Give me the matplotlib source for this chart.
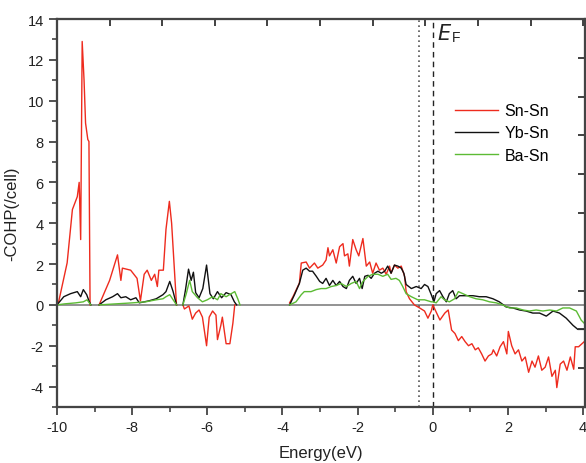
import numpy as np
import matplotlib
matplotlib.use("Agg")
import matplotlib.pyplot as plt

plt.rcParams['font.family'] = ['Liberation Sans', 'DejaVu Sans']

nan = np.nan
# Sn-Sn
sn_e = [-10, -9.95, -9.73, -9.59, -9.46, -9.41, -9.37, -9.33, -9.28, -9.24, -9.18, -9.15, -9.12, nan,
        -8.88, -8.6, -8.39, -8.3, -8.26, -8.04, -7.87, -7.78, -7.68, -7.6, -7.49, -7.4, -7.33, -7.29, -7.17, -7.1, -7.01, -6.95, -6.82, nan,
        -6.65, -6.61, -6.49, -6.4, -6.31, -6.22, -6.13, -6.02, -5.95, -5.86, -5.77, -5.73, -5.64, -5.6, -5.5, -5.4, -5.32, -5.27, nan,
        -3.81, -3.72, -3.55, -3.5, -3.37, -3.28, -3.15, -3.06, -2.93, -2.84, -2.79, -2.75, -2.66, -2.57, -2.48, -2.39,
        -2.35, -2.26, -2.22, -2.13, -2.04, -1.97, -1.86, -1.77, -1.68, -1.6, -1.51, -1.42, -1.33, -1.24, -1.15, -1.11,
        -1.02, -0.93, -0.84, -0.75, -0.71, -0.62, -0.49, -0.35, -0.22, -0.13, -0.04, 0.0,
        0.19, 0.32, 0.41, 0.5, 0.59, 0.68, 0.77, 0.86, 0.95, 1.04, 1.13, 1.21, 1.3, 1.39, 1.48, 1.57, 1.61, 1.7, 1.79,
        1.88, 1.97, 2.01, 2.1, 2.19, 2.28, 2.37, 2.46, 2.55, 2.64, 2.72, 2.81, 2.9, 2.99, 3.08, 3.17, 3.26, 3.3, 3.39,
        3.48, 3.57, 3.66, 3.75, 3.79, 3.88, 3.97, 4.03]
sn_v = [0, 0.2, 2.06, 4.67, 5.3, 6.0, 3.2, 12.9, 11.0, 8.9, 8.1, 8.0, 0, nan,
        0, 1.2, 2.45, 1.2, 1.8, 1.7, 1.3, 0.2, 1.5, 1.7, 1.2, 1.5, 0.9, 1.7, 1.7, 3.7, 5.07, 4.0, 0, nan,
        0, -0.2, -0.05, -0.7, -0.4, -0.25, -0.6, -2.0, -0.6, -0.3, -0.5, -1.7, -1.0, -0.6, -1.9, -1.9, -0.9, 0, nan,
        0.1, 0.4, 1.07, 2.05, 2.1, 1.8, 2.05, 1.8, 1.95, 2.2, 2.8, 2.4, 2.7, 2.05, 2.85, 3.0,
        2.4, 2.5, 1.9, 3.2, 2.7, 2.4, 3.25, 1.9, 2.1, 1.55, 2.05, 1.7, 1.8, 1.5, 1.9, 1.55,
        1.95, 1.8, 1.9, 1.4, 0.65, 0.3, 0.0, -0.15, -0.3, -0.65, -0.3, 0.0,
        -0.74, -0.4, -0.25, -1.23, -1.4, -1.75, -1.55, -1.8, -2.0, -1.9, -2.2, -2.1, -2.4, -2.75, -2.5, -2.4, -2.2, -2.5, -2.05,
        -1.8, -2.4, -1.3, -2.0, -2.4, -2.2, -2.75, -2.55, -3.3, -2.75, -3.05, -2.5, -3.2, -3.05, -2.55, -3.5, -3.2, -4.05, -2.9,
        -2.75, -3.2, -2.55, -3.15, -2.05, -2.05, -1.9, -1.8]

# Yb-Sn
yb_e = [-10, -9.82, -9.64, -9.46, -9.37, -9.3, -9.21, -9.15, -9.1, nan,
        -8.88, -8.7, -8.52, -8.39, -8.3, -8.17, -8.04, -7.9, -7.81, -7.68, -7.55, -7.36, -7.18, -7.1, -7.0, -6.91, -6.82, nan,
        -6.65, -6.58, -6.5, -6.43, -6.37, -6.31, -6.22, -6.12, -6.02, -5.93, -5.84, -5.73, -5.62, -5.5, -5.37, -5.28, -5.22, nan,
        -3.81, -3.68, -3.55, -3.46, -3.37, -3.28, -3.2, -3.1, -3.01, -2.93, -2.84, -2.75, -2.66, -2.57, -2.48, -2.39,
        -2.3, -2.22, -2.13, -2.04, -1.95, -1.88, -1.81, -1.72, -1.64, -1.55, -1.46, -1.37, -1.28, -1.2, -1.11, -1.02,
        -0.93, -0.84, -0.77, -0.71, -0.57, -0.44, -0.31, -0.22, -0.13, -0.04, 0.03,
        0.09, 0.18, 0.27, 0.36, 0.44, 0.53, 0.62, 0.71, 0.89, 1.07, 1.24, 1.42, 1.6, 1.77, 1.95, 2.13, 2.31, 2.48,
        2.66, 2.84, 3.02, 3.2, 3.37, 3.55, 3.73, 3.86, 4.03]
yb_v = [0, 0.4, 0.55, 0.65, 0.4, 0.75, 0.5, 0.2, 0, nan,
        0, 0.25, 0.4, 0.55, 0.35, 0.4, 0.25, 0.35, 0.1, 0.15, 0.2, 0.3, 0.5, 0.65, 1.15, 0.65, 0, nan,
        0, 0.75, 1.75, 1.2, 1.6, 0.6, 0.35, 0.8, 1.95, 0.55, 0.3, 0.65, 0.35, 0.6, 0.5, 0.15, 0, nan,
        0, 0.5, 1.05, 1.7, 1.8, 1.65, 1.65, 1.4, 1.15, 1.05, 1.3, 0.95, 1.2, 0.95, 1.15, 0.9,
        0.8, 1.2, 1.4, 1.05, 1.3, 0.8, 1.4, 1.45, 1.3, 1.55, 1.65, 1.55, 1.65, 1.9, 1.55, 1.95,
        1.9, 1.8, 1.55, 1.0, 0.8, 0.9, 0.8, 1.0, 0.9, 0.5, 0.15,
        0.55, 0.7, 0.4, 0.15, 0.55, 0.7, 0.3, 0.45, 0.45, 0.45, 0.4, 0.4, 0.3, 0.15, -0.1, -0.15, -0.25, -0.3,
        -0.4, -0.4, -0.55, -0.3, -0.4, -0.65, -1.0, -1.2, -1.2]

# Ba-Sn
ba_e = [-10, -9.8, -9.5, -9.3, -9.2, -9.1, nan,
        -8.88, -8.44, -7.99, -7.64, -7.36, -7.18, -7.1, -7.0, -6.91, -6.82, nan,
        -6.65, -6.56, -6.47, -6.4, -6.26, -6.13, -6.0, -5.86, -5.73, -5.64, -5.5, -5.41, -5.27, -5.19, -5.13, nan,
        -3.81, -3.64, -3.5, -3.42, -3.24, -3.1, -2.97, -2.84, -2.7, -2.57, -2.44, -2.3, -2.17, -2.04, -1.95, -1.86,
        -1.72, -1.6, -1.46, -1.33, -1.2, -1.11, -0.98, -0.89, -0.8, -0.71, -0.57, -0.4, -0.22, -0.04, 0.0,
        0.09, 0.22, 0.31, 0.44, 0.58, 0.68, 0.8, 0.98, 1.15, 1.33, 1.51, 1.69, 1.86, 2.04, 2.22, 2.4, 2.57,
        2.75, 2.93, 3.11, 3.29, 3.46, 3.64, 3.82, 3.95, 4.03]
ba_v = [0, 0.05, 0.1, 0.15, 0.25, 0, nan,
        0, 0.05, 0.1, 0.15, 0.25, 0.3, 0.4, 0.5, 0.25, 0, nan,
        0, 0.55, 1.2, 0.65, 0.35, 0.15, 0.25, 0.4, 0.25, 0.55, 0.4, 0.5, 0.65, 0.3, 0, nan,
        0, 0.15, 0.5, 0.65, 0.65, 0.75, 0.8, 0.8, 0.9, 0.95, 1.05, 0.9, 1.05, 1.15, 0.8, 1.15,
        1.4, 1.5, 1.5, 1.4, 1.5, 1.25, 1.3, 1.2, 0.9, 0.55, 0.4, 0.25, 0.25, 0.15, 0.15,
        0.1, 0.4, 0.25, 0.15, 0.3, 0.65, 0.55, 0.4, 0.3, 0.25, 0.15, 0.1, 0.0, -0.15, -0.15, -0.25, -0.3,
        -0.25, -0.3, -0.25, -0.3, -0.15, -0.15, -0.3, -0.75, -0.9]

labels = ['Sn-Sn', 'Yb-Sn', 'Ba-Sn']
colors = ['#ee2b1e', '#111111', '#5cbb34']
fermi_shift = -0.38
xticks = [-10, -8, -6, -4, -2, 0, 2, 4]
yticks = [-4, -2, 0, 2, 4, 6, 8, 10, 12, 14]

fig = plt.figure(figsize=(5.86, 4.64), dpi=100)
ax = fig.add_axes([57/586, 56/464, 528/586, 388/464])

ax.axhline(0, color='#808080', lw=1.2, zorder=1)
ax.axvline(fermi_shift, color='#555555', lw=1.2, ls=(0, (1, 2)), zorder=1)
ax.axvline(0, color='#222222', lw=1.0, ls=(0, (4, 3)), zorder=1)

for e, v, c, lab in zip([sn_e, yb_e, ba_e], [sn_v, yb_v, ba_v], colors, labels):
    ax.plot(e, v, color=c, lw=1.0, label=lab, zorder=2)

ax.set_xlim(-10, 4.05)
ax.set_ylim(-5, 14)
ax.set_xticks(xticks)
ax.set_xticks(np.arange(-9, 4, 2), minor=True)
ax.set_yticks(yticks)
ax.set_yticks(np.arange(-5, 14, 1), minor=True)
ax.set_xticklabels([str(t) for t in xticks])
ax.set_yticklabels([str(t) for t in yticks])
ax.tick_params(axis='both', which='major', direction='out', length=6, width=1.3,
               color='#444444', labelsize=10.5, labelcolor='#222222')
ax.tick_params(axis='both', which='minor', direction='out', length=3.5, width=1.2, color='#444444')
for s in ax.spines.values():
    s.set_color('#444444')
    s.set_linewidth(1.5)

axt = ax.twiny()
axt.set_xlim(ax.get_xlim())
axt.set_xticks(np.arange(-10, 4.01, 1.4))
axt.tick_params(axis='x', direction='in', length=5, width=1.3, color='#333333', labeltop=False)
axr = ax.twinx()
axr.set_ylim(ax.get_ylim())
axr.set_yticks(np.arange(-5, 14.01, 1.9))
axr.tick_params(axis='y', direction='in', length=5, width=1.3, color='#333333', labelright=False)
for a in (axt, axr):
    for s in a.spines.values():
        s.set_color('#444444')
        s.set_linewidth(1.5)

ax.set_xlabel('Energy(eV)', fontsize=12, color='#222222', labelpad=8)
ax.set_ylabel('-COHP(/cell)', fontsize=12, color='#222222', labelpad=6)

ax.text(0.1, 13.3, '$E$', fontsize=15, color='#222222', va='center', ha='left')
ax.text(0.52, 13.1, 'F', fontsize=10, color='#222222', va='center', ha='left')

leg = ax.legend(loc='upper left', bbox_to_anchor=(0.727, 0.82), frameon=False,
                fontsize=11.5, handlelength=2.7, handletextpad=0.4, labelspacing=0.45)

fig.savefig('out.png', dpi=100)
